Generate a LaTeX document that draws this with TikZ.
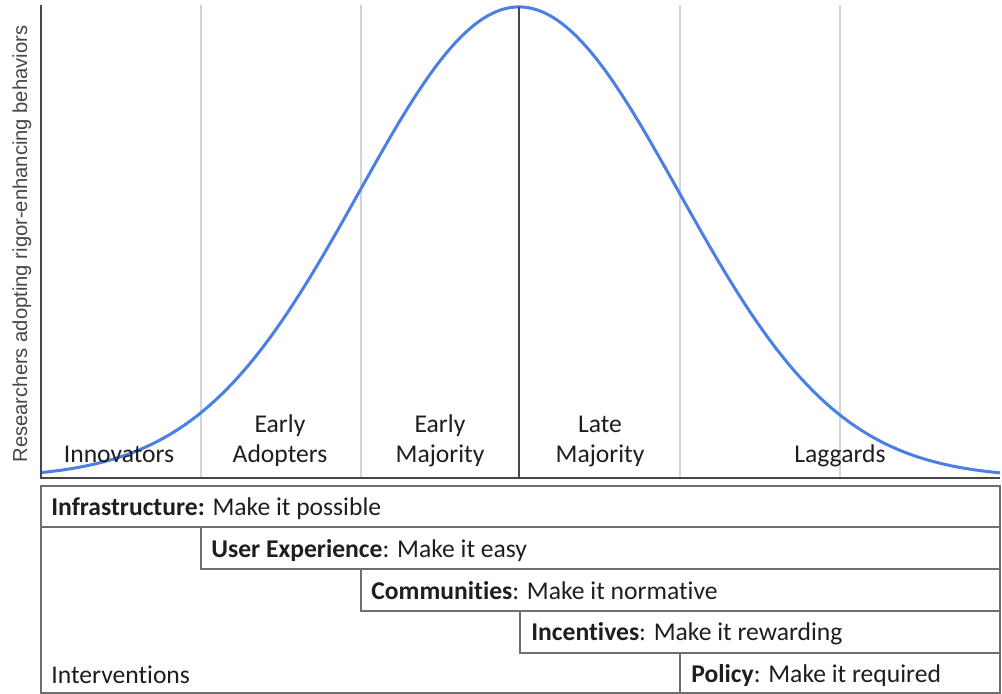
\documentclass[tikz,border=0pt]{standalone}
\usepackage{fontspec}
\setmainfont[Ligatures=NoCommon]{Carlito}
\newfontfamily\axisfont{Liberation Sans}
\definecolor{curveblue}{RGB}{74,128,228}
\definecolor{axisgray}{RGB}{70,70,70}
\definecolor{gridgray}{RGB}{212,212,212}
\definecolor{boxgray}{RGB}{110,110,110}
\definecolor{textgray}{RGB}{30,30,30}

\begin{document}
\begin{tikzpicture}[x=0.5pt,y=-0.5pt,
    gridline/.style={gridgray, line width=0.75pt},
    axisline/.style={axisgray, line width=1pt},
    boxline/.style={boxgray, line width=1pt},
    phase/.style={align=center, anchor=base, text=textgray, font=\fontsize{12.8}{15}\selectfont},
    lever/.style={anchor=base west, inner sep=0pt, text=textgray, font=\fontsize{12.8}{15}\selectfont}]
        \useasboundingbox (0,0) rectangle (1002,694);

        \draw[gridline] (201,5) -- (201,478);
        \draw[gridline] (361,5) -- (361,478);
        \draw[gridline] (680,5) -- (680,478);
        \draw[gridline] (840,5) -- (840,478);

        \draw[curveblue, line width=1.5pt, line join=round]
            plot[domain=41:1000, samples=160, smooth] (\x,{478-471*exp(-0.5*((\x-519)/160)^2)});

        \draw[axisline] (519,7) -- (519,478);
        \draw[axisline] (41,5) -- (41,478) -- (1000,478);

        \node[rotate=90, text=axisgray, font=\axisfont\fontsize{10.1}{12}\selectfont] (ylabel) at (22,244) {Researchers adopting rigor-enhancing behaviors};

        \node[phase] (innovators) at (119,463) {Innovators};
        \node[phase] (adopters) at (280,463) {Early\\Adopters};
        \node[phase] (earlymaj) at (440,463) {Early\\Majority};
        \node[phase] (latemaj) at (600,463) {Late\\Majority};
        \node[phase] (laggards) at (840,463) {Laggards};

        \draw[boxline] (41,486) rectangle (1000,693);
        \draw[boxline] (41,527) -- (1000,527);
        \draw[boxline] (201,527) rectangle (1000,569);
        \draw[boxline] (361,569) rectangle (1000,611);
        \draw[boxline] (520,611) rectangle (1000,653);
        \draw[boxline] (680,653) rectangle (1000,693);

        \node[lever] (infra) at (51,516) {\textbf{Infrastructure:} Make it possible};
        \node[lever] (ux) at (211,558) {\textbf{User Experience}: Make it easy};
        \node[lever] (comm) at (371,600) {\textbf{Communities}: Make it normative};
        \node[lever] (incent) at (531,641) {\textbf{Incentives}: Make it rewarding};
        \node[lever] (policy) at (691,683) {\textbf{Policy}: Make it required};
        \node[lever] (interv) at (51,684) {Interventions};
    \end{tikzpicture}
\end{document}
